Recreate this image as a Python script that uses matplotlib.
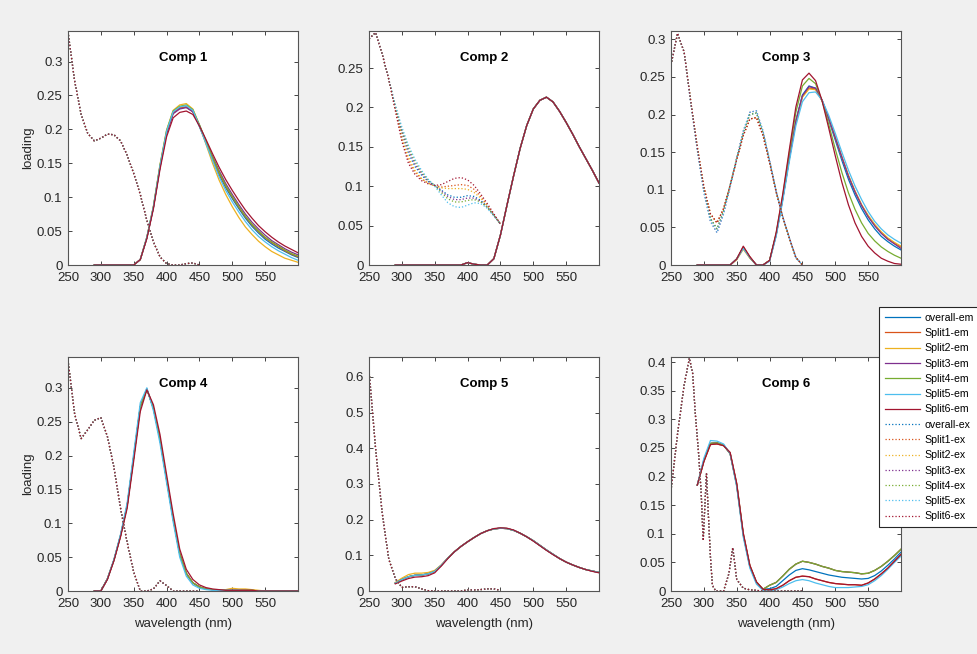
import matplotlib
matplotlib.use('Agg')
import matplotlib.pyplot as plt
from matplotlib.ticker import FormatStrFormatter, MultipleLocator

plt.rcParams['font.family'] = ['Liberation Sans', 'DejaVu Sans']

# # # WAVELENGTH GRIDS (nm) # # #
wl_em = [290, 300, 310, 320, 330, 340, 350, 360, 370, 380, 390, 400, 410, 420, 430, 440,
         450, 460, 470, 480, 490, 500, 510, 520, 530, 540, 550, 560, 570, 580, 590, 600]
wl_ex = [250, 260, 270, 280, 290, 300, 310, 320, 330, 340, 350, 360, 370, 380, 390, 400,
         410, 420, 430, 440, 450]
wl_ex6 = [250, 260, 270, 278, 283, 287, 292, 296, 299, 302, 304, 307, 310, 313, 318, 330,
          338, 344, 350, 360, 370, 390, 450]

names = ['overall', 'Split1', 'Split2', 'Split3', 'Split4', 'Split5', 'Split6']
colors = ['#0072BD', '#D95319', '#EDB120', '#7E2F8E', '#77AC30', '#4DBEEE', '#A2142F']

# # # COMP 1 # # #
c1_em_overall = [0, 0, 0, 0, 0, 0, 0, 0.008, 0.040, 0.085, 0.145, 0.195, 0.224, 0.231, 0.233, 0.226,
                 0.204, 0.180, 0.156, 0.133, 0.114, 0.098, 0.083, 0.069, 0.057, 0.047, 0.038, 0.031, 0.025, 0.020, 0.015, 0.011]
c1_em_split1 = [0, 0, 0, 0, 0, 0, 0, 0.008, 0.040, 0.085, 0.145, 0.195, 0.224, 0.232, 0.233, 0.226,
                0.205, 0.181, 0.157, 0.135, 0.116, 0.100, 0.085, 0.071, 0.059, 0.049, 0.040, 0.033, 0.027, 0.021, 0.016, 0.012]
c1_em_split2 = [0, 0, 0, 0, 0, 0, 0, 0.008, 0.041, 0.087, 0.148, 0.199, 0.228, 0.236, 0.238, 0.230,
                0.206, 0.178, 0.150, 0.125, 0.104, 0.086, 0.070, 0.056, 0.045, 0.035, 0.027, 0.020, 0.015, 0.010, 0.007, 0.004]
c1_em_split3 = [0, 0, 0, 0, 0, 0, 0, 0.008, 0.040, 0.085, 0.144, 0.194, 0.223, 0.230, 0.232, 0.226,
                0.206, 0.183, 0.160, 0.139, 0.120, 0.104, 0.089, 0.075, 0.063, 0.053, 0.044, 0.036, 0.030, 0.024, 0.019, 0.015]
c1_em_split4 = [0, 0, 0, 0, 0, 0, 0, 0.008, 0.041, 0.086, 0.147, 0.198, 0.227, 0.234, 0.236, 0.229,
                0.207, 0.183, 0.159, 0.137, 0.117, 0.101, 0.086, 0.072, 0.060, 0.050, 0.041, 0.034, 0.028, 0.022, 0.017, 0.013]
c1_em_split5 = [0, 0, 0, 0, 0, 0, 0, 0.008, 0.041, 0.086, 0.146, 0.197, 0.226, 0.233, 0.235, 0.228,
                0.205, 0.179, 0.154, 0.130, 0.110, 0.093, 0.078, 0.064, 0.052, 0.042, 0.034, 0.027, 0.021, 0.016, 0.011, 0.007]
c1_em_split6 = [0, 0, 0, 0, 0, 0, 0, 0.008, 0.039, 0.083, 0.141, 0.189, 0.217, 0.225, 0.227, 0.222,
                0.205, 0.185, 0.164, 0.144, 0.126, 0.110, 0.095, 0.081, 0.069, 0.058, 0.049, 0.041, 0.034, 0.028, 0.023, 0.018]
c1_ex = [0.344, 0.272, 0.222, 0.194, 0.183, 0.187, 0.193, 0.192, 0.183, 0.162, 0.135, 0.104, 0.066,
         0.034, 0.012, 0.002, 0.000, 0.000, 0.002, 0.003, 0.000]

# # # COMP 2 # # #
c2_em = [0, 0, 0, 0, 0, 0, 0, 0, 0, 0, 0, 0.003, 0.001, 0, 0, 0.008,
         0.038, 0.076, 0.113, 0.148, 0.177, 0.198, 0.209, 0.213, 0.207, 0.195, 0.181, 0.166, 0.150, 0.135, 0.120, 0.104]
c2_ex_overall = [0.287, 0.295, 0.268, 0.236, 0.200, 0.167, 0.142, 0.125, 0.114, 0.106, 0.101, 0.095, 0.089,
                 0.086, 0.086, 0.088, 0.087, 0.082, 0.074, 0.063, 0.052]
c2_ex_split1 = [0.287, 0.295, 0.268, 0.236, 0.198, 0.160, 0.133, 0.118, 0.109, 0.104, 0.101, 0.099, 0.100,
                0.101, 0.102, 0.101, 0.096, 0.087, 0.076, 0.064, 0.052]
c2_ex_split2 = [0.287, 0.295, 0.268, 0.236, 0.199, 0.163, 0.137, 0.120, 0.110, 0.104, 0.100, 0.098, 0.097,
                0.097, 0.097, 0.096, 0.092, 0.085, 0.075, 0.063, 0.052]
c2_ex_split3 = [0.287, 0.295, 0.268, 0.236, 0.201, 0.170, 0.146, 0.128, 0.116, 0.107, 0.101, 0.094, 0.087,
                0.083, 0.083, 0.085, 0.085, 0.081, 0.073, 0.063, 0.052]
c2_ex_split4 = [0.287, 0.295, 0.268, 0.236, 0.202, 0.172, 0.149, 0.131, 0.118, 0.108, 0.101, 0.092, 0.084,
                0.080, 0.080, 0.082, 0.083, 0.080, 0.073, 0.063, 0.052]
c2_ex_split5 = [0.287, 0.295, 0.268, 0.236, 0.203, 0.175, 0.152, 0.134, 0.120, 0.109, 0.100, 0.089, 0.079,
                0.074, 0.073, 0.076, 0.079, 0.078, 0.072, 0.062, 0.052]
c2_ex_split6 = [0.287, 0.295, 0.268, 0.236, 0.196, 0.157, 0.129, 0.115, 0.107, 0.103, 0.101, 0.102, 0.106,
                0.110, 0.111, 0.108, 0.101, 0.090, 0.078, 0.065, 0.052]

# # # COMP 3 # # #
c3_em_overall = [0, 0, 0, 0, 0, 0, 0.008, 0.023, 0.010, 0, 0, 0.006, 0.040, 0.088, 0.142, 0.192,
                 0.226, 0.238, 0.235, 0.218, 0.193, 0.166, 0.139, 0.114, 0.093, 0.075, 0.060, 0.048, 0.038, 0.031, 0.025, 0.020]
c3_em_split1 = [0, 0, 0, 0, 0, 0, 0.008, 0.024, 0.011, 0, 0, 0.006, 0.040, 0.088, 0.141, 0.190,
                0.224, 0.235, 0.234, 0.219, 0.196, 0.170, 0.144, 0.119, 0.098, 0.080, 0.065, 0.053, 0.043, 0.035, 0.029, 0.024]
c3_em_split2 = [0, 0, 0, 0, 0, 0, 0.007, 0.021, 0.009, 0, 0, 0.006, 0.040, 0.088, 0.141, 0.190,
                0.223, 0.234, 0.233, 0.218, 0.195, 0.169, 0.143, 0.119, 0.098, 0.080, 0.066, 0.054, 0.044, 0.036, 0.030, 0.025]
c3_em_split3 = [0, 0, 0, 0, 0, 0, 0.008, 0.023, 0.010, 0, 0, 0.006, 0.040, 0.088, 0.141, 0.191,
                0.225, 0.237, 0.235, 0.219, 0.195, 0.169, 0.143, 0.118, 0.097, 0.079, 0.064, 0.052, 0.042, 0.034, 0.028, 0.022]
c3_em_split4 = [0, 0, 0, 0, 0, 0, 0.008, 0.023, 0.010, 0, 0, 0.006, 0.042, 0.092, 0.149, 0.203,
                0.238, 0.248, 0.241, 0.218, 0.187, 0.154, 0.123, 0.096, 0.074, 0.056, 0.042, 0.032, 0.024, 0.018, 0.013, 0.009]
c3_em_split5 = [0, 0, 0, 0, 0, 0, 0.008, 0.022, 0.010, 0, 0, 0.005, 0.038, 0.085, 0.137, 0.185,
                0.217, 0.229, 0.230, 0.219, 0.199, 0.175, 0.150, 0.126, 0.105, 0.087, 0.071, 0.058, 0.048, 0.040, 0.034, 0.029]
c3_em_split6 = [0, 0, 0, 0, 0, 0, 0.008, 0.025, 0.011, 0, 0, 0.006, 0.043, 0.094, 0.153, 0.210,
                0.246, 0.255, 0.245, 0.218, 0.182, 0.145, 0.110, 0.080, 0.056, 0.038, 0.025, 0.016, 0.009, 0.005, 0.002, 0.001]
c3_ex_a = [0.266, 0.308, 0.283, 0.217, 0.155, 0.100, 0.062, 0.048, 0.072, 0.106, 0.142, 0.176, 0.200,
           0.202, 0.176, 0.138, 0.098, 0.064, 0.036, 0.010, 0.000]
c3_ex_b = [0.266, 0.308, 0.283, 0.218, 0.157, 0.104, 0.068, 0.056, 0.075, 0.106, 0.140, 0.172, 0.194,
           0.196, 0.172, 0.136, 0.097, 0.064, 0.036, 0.010, 0.000]
c3_ex_c = [0.266, 0.308, 0.283, 0.216, 0.153, 0.097, 0.058, 0.043, 0.068, 0.104, 0.142, 0.178, 0.203,
           0.205, 0.178, 0.139, 0.098, 0.064, 0.036, 0.010, 0.000]

# # # COMP 4 # # #
c4_em_a = [0, 0, 0.018, 0.046, 0.082, 0.126, 0.198, 0.272, 0.298, 0.270, 0.224, 0.165, 0.107, 0.055, 0.026, 0.012,
           0.006, 0.003, 0.002, 0.001, 0.001, 0.001, 0.001, 0.001, 0.001, 0, 0, 0, 0, 0, 0, 0]
c4_em_yel = [0, 0, 0.018, 0.046, 0.082, 0.126, 0.198, 0.272, 0.298, 0.270, 0.224, 0.165, 0.107, 0.055, 0.026, 0.012,
             0.006, 0.003, 0.002, 0.001, 0.002, 0.004, 0.003, 0.003, 0.002, 0.001, 0, 0, 0, 0, 0, 0]
c4_em_cyan = [0, 0, 0.018, 0.047, 0.084, 0.130, 0.204, 0.278, 0.300, 0.266, 0.218, 0.160, 0.102, 0.050, 0.022, 0.009,
              0.004, 0.002, 0.001, 0.001, 0.001, 0.001, 0.001, 0, 0, 0, 0, 0, 0, 0, 0, 0]
c4_em_red = [0, 0, 0.017, 0.045, 0.080, 0.122, 0.192, 0.265, 0.297, 0.275, 0.231, 0.172, 0.114, 0.062, 0.032, 0.017,
             0.009, 0.005, 0.003, 0.002, 0.001, 0.001, 0.001, 0.001, 0.001, 0, 0, 0, 0, 0, 0, 0]
c4_ex = [0.341, 0.262, 0.225, 0.238, 0.252, 0.256, 0.228, 0.182, 0.122, 0.072, 0.028, 0.000, 0.000,
         0.003, 0.015, 0.008, 0.000, 0.000, 0.000, 0.000, 0.000]

# # # COMP 5 # # #
c5_em_a = [0.022, 0.032, 0.040, 0.044, 0.045, 0.048, 0.055, 0.072, 0.092, 0.110, 0.125, 0.138, 0.150, 0.161, 0.169, 0.174,
           0.176, 0.175, 0.170, 0.162, 0.152, 0.141, 0.128, 0.115, 0.103, 0.091, 0.081, 0.073, 0.066, 0.060, 0.056, 0.052]
c5_em_yel = [0.024, 0.036, 0.046, 0.050, 0.050, 0.052, 0.058, 0.073, 0.092, 0.110, 0.125, 0.138, 0.150, 0.161, 0.169, 0.174,
             0.176, 0.175, 0.170, 0.162, 0.152, 0.141, 0.128, 0.115, 0.103, 0.091, 0.081, 0.073, 0.066, 0.060, 0.056, 0.052]
c5_em_red = [0.020, 0.028, 0.035, 0.039, 0.040, 0.043, 0.051, 0.070, 0.091, 0.110, 0.125, 0.138, 0.150, 0.161, 0.169, 0.175,
             0.177, 0.176, 0.171, 0.162, 0.152, 0.140, 0.127, 0.114, 0.102, 0.091, 0.081, 0.073, 0.066, 0.060, 0.055, 0.051]
c5_ex = [0.620, 0.400, 0.220, 0.090, 0.035, 0.010, 0.012, 0.012, 0.006, 0.001, 0.000, 0.000, 0.000,
         0.000, 0.000, 0.003, 0.003, 0.004, 0.006, 0.006, 0.002]

# # # COMP 6 # # #
c6_em_top = [0.185, 0.228, 0.258, 0.259, 0.255, 0.240, 0.185, 0.098, 0.043, 0.015, 0.003,
             0.010, 0.015, 0.026, 0.038, 0.047, 0.052, 0.050, 0.047, 0.043, 0.040, 0.036, 0.034, 0.033, 0.032, 0.030,
             0.031, 0.036, 0.043, 0.052, 0.062, 0.073]
c6_em_blue = [0.185, 0.228, 0.258, 0.259, 0.255, 0.240, 0.185, 0.098, 0.043, 0.015, 0.003,
              0.004, 0.008, 0.018, 0.028, 0.036, 0.039, 0.037, 0.034, 0.031, 0.028, 0.026, 0.024, 0.023, 0.022, 0.021,
              0.022, 0.027, 0.035, 0.045, 0.056, 0.068]
c6_em_low = [0.185, 0.226, 0.256, 0.257, 0.254, 0.242, 0.188, 0.101, 0.045, 0.016, 0.003,
             0.002, 0.004, 0.010, 0.018, 0.024, 0.026, 0.025, 0.021, 0.018, 0.015, 0.013, 0.012, 0.011, 0.011, 0.010,
             0.014, 0.021, 0.030, 0.040, 0.052, 0.064]
c6_em_cyan = [0.185, 0.232, 0.263, 0.262, 0.257, 0.240, 0.182, 0.094, 0.040, 0.012, 0.001,
              0.000, 0.002, 0.007, 0.013, 0.018, 0.020, 0.018, 0.014, 0.011, 0.008, 0.006, 0.006, 0.006, 0.007, 0.008,
              0.011, 0.018, 0.027, 0.038, 0.050, 0.061]
c6_ex = [0.175, 0.275, 0.360, 0.407, 0.380, 0.310, 0.240, 0.170, 0.088, 0.160, 0.205, 0.130, 0.060,
         0.010, 0.000, 0.000, 0.030, 0.076, 0.020, 0.005, 0.002, 0.000, 0.000]

# # # PANEL TABLE # # #
panels = [
    ('Comp 1', wl_ex,
     [c1_em_overall, c1_em_split1, c1_em_split2, c1_em_split3, c1_em_split4, c1_em_split5, c1_em_split6],
     [c1_ex] * 7, 0.345, 0.05),
    ('Comp 2', wl_ex, [c2_em] * 7,
     [c2_ex_overall, c2_ex_split1, c2_ex_split2, c2_ex_split3, c2_ex_split4, c2_ex_split5, c2_ex_split6], 0.297, 0.05),
    ('Comp 3', wl_ex,
     [c3_em_overall, c3_em_split1, c3_em_split2, c3_em_split3, c3_em_split4, c3_em_split5, c3_em_split6],
     [c3_ex_a, c3_ex_b, c3_ex_b, c3_ex_c, c3_ex_a, c3_ex_c, c3_ex_b], 0.311, 0.05),
    ('Comp 4', wl_ex, [c4_em_a, c4_em_a, c4_em_yel, c4_em_a, c4_em_a, c4_em_cyan, c4_em_red],
     [c4_ex] * 7, 0.3455, 0.05),
    ('Comp 5', wl_ex, [c5_em_a, c5_em_a, c5_em_yel, c5_em_a, c5_em_a, c5_em_a, c5_em_red],
     [c5_ex] * 7, 0.656, 0.1),
    ('Comp 6', wl_ex6, [c6_em_blue, c6_em_low, c6_em_top, c6_em_top, c6_em_top, c6_em_cyan, c6_em_low],
     [c6_ex] * 7, 0.409, 0.05),
]

# # # FIGURE # # #
fig = plt.figure(figsize=(9.78, 6.54), dpi=100, facecolor='#f0f0f0')
lefts = [68, 369, 671]
tops = [31, 357]
axw, axh = 230, 234
axc = '#262626'

for i, (title, wlx, ems, exs, ytop, ystep) in enumerate(panels):
    row, col = divmod(i, 3)
    l = lefts[col] / 978
    b = 1 - (tops[row] + axh) / 654
    ax = fig.add_axes([l, b, axw / 978, axh / 654])
    for k in range(7):
        ax.plot(wl_em, ems[k], color=colors[k], lw=0.9, label=names[k] + '-em')
    for k in range(7):
        ax.plot(wlx, exs[k], color=colors[k], lw=0.9, ls=':', label=names[k] + '-ex')
    ax.set_xlim(250, 600)
    ax.set_ylim(0, ytop)
    ax.set_xticks([250, 300, 350, 400, 450, 500, 550])
    ax.yaxis.set_major_locator(MultipleLocator(ystep))
    ax.yaxis.set_major_formatter(FormatStrFormatter('%g'))
    ax.tick_params(direction='in', length=3, top=True, right=True, labelsize=9.5,
                   colors=axc, width=0.6)
    ax.tick_params(axis='x', pad=5)
    ax.tick_params(axis='y', pad=4)
    for s in ax.spines.values():
        s.set_color('#555555')
        s.set_linewidth(0.8)
    ax.text(0.5, 0.885, title, transform=ax.transAxes, ha='center', va='center',
            fontsize=9.5, fontweight='bold', color='black')
    if col == 0:
        ax.set_ylabel('loading', fontsize=9.5, color=axc, labelpad=2)
    if row == 1:
        ax.set_xlabel('wavelength (nm)', fontsize=9.5, color=axc, labelpad=6)
    last = ax

handles, labels = last.get_legend_handles_labels()
leg = fig.legend(handles, labels, loc='upper left', bbox_to_anchor=(879 / 978, 1 - 307 / 654),
                 fontsize=7.6, frameon=True, fancybox=False, framealpha=1, edgecolor='#262626',
                 handlelength=3.3, labelspacing=0.5, borderpad=0.55, handletextpad=0.45,
                 borderaxespad=0)
leg.get_frame().set_linewidth(0.8)

fig.savefig('out.png', dpi=100, facecolor=fig.get_facecolor())
